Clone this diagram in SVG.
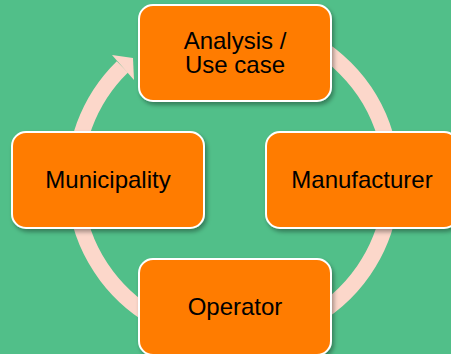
<svg xmlns="http://www.w3.org/2000/svg" width="451" height="354" viewBox="0 0 451 354">
<defs>
<filter id="sh" x="-10%" y="-10%" width="130%" height="130%">
<feDropShadow dx="2" dy="3" stdDeviation="2" flood-color="#000" flood-opacity="0.35"/>
</filter>
<style>
.node rect{fill:#FF7C00;stroke:#fff;stroke-width:2;filter:url(#sh)}
.node text{font-family:"Liberation Sans",Arial,sans-serif;font-size:24px;fill:#000;text-anchor:middle}
.ring{fill:none;stroke:#FCD7CA;stroke-width:16}
.head{fill:#FCD7CA}
</style>
</defs>
<rect width="451" height="354" fill="#51BF89"/>
<g id="connectors">
<path class="ring" d="M208,23.8 A158.6,158.6 0 1 1 122.4,66.9"/>
<polygon class="head" points="133,58 112,55 134,80"/>
</g>
<g id="analysis" class="node">
<rect x="139" y="5" width="192" height="96" rx="14"/>
<text x="235" y="49"><tspan x="235" y="49">Analysis /</tspan><tspan x="235" y="73">Use case</tspan></text>
</g>
<g id="manufacturer" class="node">
<rect x="266" y="132" width="192" height="96" rx="14"/>
<text x="362" y="188">Manufacturer</text>
</g>
<g id="operator" class="node">
<rect x="139" y="259" width="192" height="96" rx="14"/>
<text x="235" y="315">Operator</text>
</g>
<g id="municipality" class="node">
<rect x="12" y="132" width="192" height="96" rx="14"/>
<text x="108" y="188">Municipality</text>
</g>
</svg>
